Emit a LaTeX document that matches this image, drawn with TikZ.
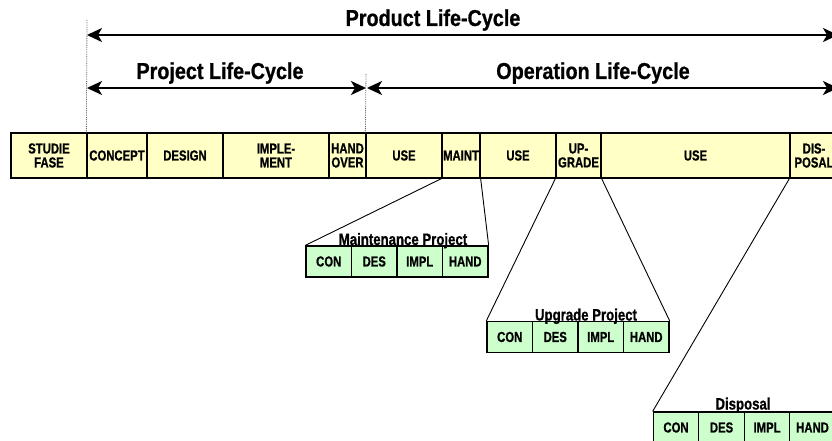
\documentclass[tikz,border=0pt]{standalone}
\usepackage{fontspec}
\setmainfont{Liberation Sans}
\newfontfamily\cellfont[FakeStretch=0.78,BoldFeatures={FakeBold=0.8}]{Liberation Sans}
\newfontfamily\labelfont[FakeStretch=0.80,BoldFeatures={FakeBold=0.8}]{Liberation Sans}
\newfontfamily\titlefont[FakeStretch=0.86,BoldFeatures={FakeBold=0.8}]{Liberation Sans}
\usetikzlibrary{arrows.meta}
\definecolor{phase}{HTML}{FFFFC6}
\definecolor{subphase}{HTML}{CCFFCC}

\begin{document}
\begin{tikzpicture}[x=1pt,y=-1pt,
  cell/.style={draw=black, line width=1.3pt, fill=phase, inner sep=0pt,
    minimum height=45pt, align=center,
    font=\cellfont\bfseries\fontsize{14.5}{14}\selectfont},
  subcell/.style={draw=black, line width=1.3pt, fill=subphase, inner sep=0pt,
    minimum width=45.5pt, minimum height=31pt,
    font=\cellfont\bfseries\fontsize{14.5}{14}\selectfont},
  sublabel/.style={inner sep=0pt, anchor=base,
    font=\labelfont\bfseries\fontsize{16.5}{16}\selectfont},
  title/.style={inner sep=0pt, anchor=base,
    font=\titlefont\bfseries\fontsize{23}{24}\selectfont},
  span/.style={line width=2.2pt, {Stealth[length=15pt,width=14pt,inset=4pt]}-{Stealth[length=15pt,width=14pt,inset=4pt]}},
  guide/.style={densely dotted, line width=0.8pt, gray!70!black},
  link/.style={line width=0.9pt, black}
]
\path[use as bounding box] (0,0) rectangle (832,441);
\clip (0,0) rectangle (832,441);

% phases of the product life-cycle
\foreach \n/\a/\b/\t in {
    studie/11/87/{STUDIE\\FASE},
    concept/87/147/{CONCEPT},
    design/147/223/{DESIGN},
    imple/223/329/{IMPLE-\\MENT},
    hand/329/366/{HAND\\OVER},
    useA/366/442/{USE},
    maint/442/480/{MAINT},
    useB/480/556/{USE},
    upgrade/556/601/{UP-\\GRADE},
    useC/601/790/{USE},
    dis/790/838/{DIS-\\POSAL}} {
  \node[cell, minimum width={(\b-\a)*1pt}] (\n) at ({(\a+\b)/2},155.5) {\t};
}

% guide lines marking the start of the life-cycles
\coordinate (gA) at (87,19);
\coordinate (gB) at (366,73);
\draw[guide] (concept.north west) -- (gA);
\draw[guide] (useA.north west) -- (gB);

% life-cycle spans
\coordinate (pl) at (87,35);
\coordinate (pr) at (838,35);
\coordinate (jl) at (87,88);
\coordinate (jm) at (366,88);
\coordinate (jn) at (367,88);
\coordinate (jr) at (838,88);
\draw[span] (pl) -- (pr);
\draw[span] (jl) -- (jm);
\draw[span] (jn) -- (jr);

\node[title] (tprod) at (433,26) {Product Life-Cycle};
\node[title] (tproj) at (220,79) {Project Life-Cycle};
\node[title] (toper) at (593,79) {Operation Life-Cycle};

% sub-projects
\foreach \p/\x/\y in {m/306/261.5, u/487/337, d/653.3/427.5} {
  \foreach \t [count=\i] in {CON,DES,IMPL,HAND} {
    \node[subcell] (\p\i) at ({\x+45.5*(\i-0.5)},\y) {\t};
  }
}
\node[sublabel] (mlabel) at (403,245) {Maintenance Project};
\node[sublabel] (ulabel) at (586,320.5) {Upgrade Project};
\node[sublabel] (dlabel) at (743,409.5) {Disposal};

% expansion lines from phase to sub-project
\draw[link] (maint.south west) -- (m1.north west);
\draw[link] (maint.south east) -- (m4.north east);
\draw[link] (upgrade.south west) -- (u1.north west);
\draw[link] (upgrade.south east) -- (u4.north east);
\draw[link] (dis.south west) -- (d1.north west);
\draw[link] (dis.south east) -- (d4.north east);
\end{tikzpicture}
\end{document}
